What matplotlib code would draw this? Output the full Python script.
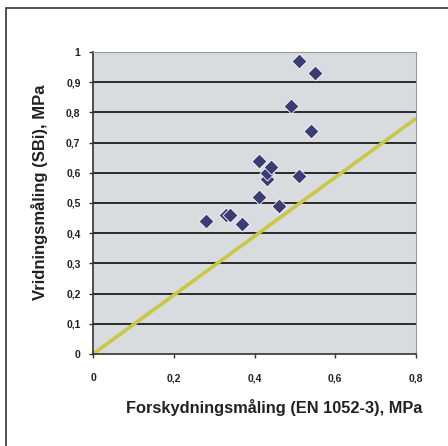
import matplotlib
matplotlib.use("Agg")
import matplotlib.pyplot as plt
from matplotlib.patches import Rectangle
from matplotlib.ticker import FuncFormatter

# maalte vaerdier (MPa)
forskydning = [0.28, 0.33, 0.34, 0.37, 0.41, 0.41, 0.43, 0.43, 0.44, 0.46, 0.49, 0.51, 0.51, 0.54, 0.55]
vridning = [0.44, 0.46, 0.46, 0.43, 0.52, 0.64, 0.58, 0.60, 0.62, 0.49, 0.82, 0.59, 0.97, 0.74, 0.93]

# referencelinje
linje_x = [0.0, 0.8]
linje_y = [0.0, 0.78]

x_ticks = [0, 0.2, 0.4, 0.6, 0.8]
y_ticks = [0, 0.1, 0.2, 0.3, 0.4, 0.5, 0.6, 0.7, 0.8, 0.9, 1.0]

plt.rcParams['font.family'] = ['Liberation Sans', 'DejaVu Sans']

fig = plt.figure(figsize=(4.48, 4.46), dpi=100)
ax = fig.add_axes([93 / 448, 1 - 354 / 446, (416 - 93) / 448, (354 - 52) / 446])

# ydre ramme (beskaaret til hoejre og forneden)
fig.add_artist(Rectangle((6 / 448, -0.5), 2.0, 1.5 - 8 / 446, transform=fig.transFigure,
                         fill=False, edgecolor='#333333', linewidth=1.2, clip_on=False))

ax.set_facecolor('#d8dcdf')
for y in y_ticks[1:]:
    ax.axhline(y, color='#2b2b2b', linewidth=1.4, zorder=1)

ax.plot(linje_x, linje_y, color='#c8c844', linewidth=2.6, zorder=2, solid_capstyle='butt')
ax.scatter(forskydning, vridning, marker='D', s=58, color='#3b3b75', edgecolors='white',
           linewidths=0.6, zorder=3)

ax.set_xlim(0, 0.8)
ax.set_ylim(0, 1.0)
ax.set_xticks(x_ticks)
ax.set_yticks(y_ticks)

fmt = FuncFormatter(lambda v, p: ('%g' % round(v, 2)).replace('.', ','))
ax.xaxis.set_major_formatter(fmt)
ax.yaxis.set_major_formatter(fmt)
ax.tick_params(axis='both', labelsize=7.5, length=3, width=1, color='#333333', pad=6,
               labelcolor='#222222')
ax.tick_params(axis='x', pad=11)
for lbl in ax.get_xticklabels() + ax.get_yticklabels():
    lbl.set_fontweight('bold')

ax.spines['left'].set_color('#333333')
ax.spines['bottom'].set_color('#333333')
ax.spines['left'].set_linewidth(1.2)
ax.spines['bottom'].set_linewidth(1.2)
ax.spines['top'].set_color('#9a9a9a')
ax.spines['right'].set_color('#9a9a9a')
ax.spines['top'].set_linewidth(0.8)
ax.spines['right'].set_linewidth(0.8)

fig.text(274 / 448, 1 - 407 / 446, 'Forskydningsmåling (EN 1052-3), MPa', ha='center', va='center',
         fontsize=11.8, fontweight='bold', color='#222222')
fig.text(40 / 448, 1 - 192 / 446, 'Vridningsmåling (SBi), MPa', ha='center', va='center',
         rotation=90, fontsize=12, fontweight='bold', color='#222222')

fig.savefig('out.png', dpi=100)
